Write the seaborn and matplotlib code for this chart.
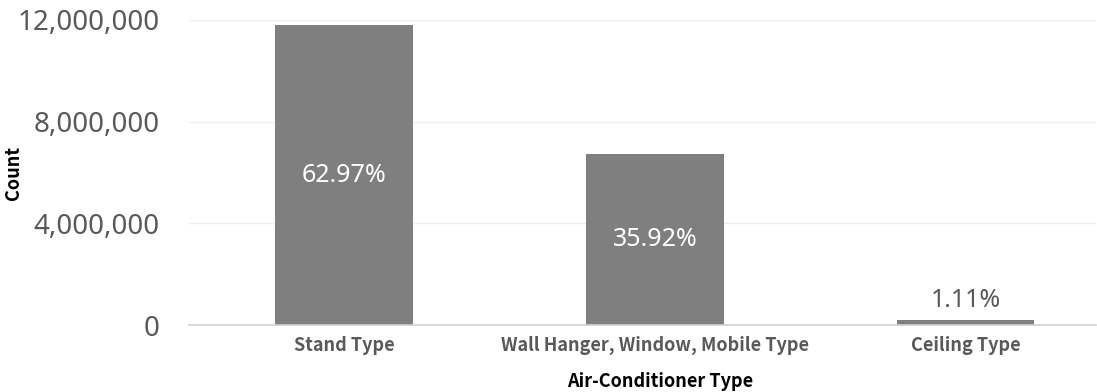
import matplotlib
matplotlib.use("Agg")
import matplotlib.pyplot as plt
import seaborn as sns
import pandas as pd

categories = ["Stand Type", "Wall Hanger, Window, Mobile Type", "Ceiling Type"]
counts = [11800000, 6731000, 208000]
pct_labels = ["62.97%", "35.92%", "1.11%"]
y_ticks = [0, 4000000, 8000000, 12000000]
y_tick_labels = ["0", "4,000,000", "8,000,000", "12,000,000"]

sns.set_theme(style="white")
plt.rcParams['font.family'] = ['Noto Sans', 'DejaVu Sans']

df = pd.DataFrame({"type": categories, "count": counts})

fig = plt.figure(figsize=(10.97, 3.92), dpi=100)
ax = fig.add_axes([189/1097, 1 - 325/392, (1096-189)/1097, (325-20)/392])

sns.barplot(data=df, x="type", y="count", color="#7f7f7f", width=0.444,
            saturation=1, ax=ax, edgecolor="none")

ax.set_xlim(-0.5, 2.42)
ax.set_ylim(0, 12000000)
ax.set_yticks(y_ticks)
ax.set_yticklabels(y_tick_labels, fontsize=20, color="#595959")
ax.tick_params(axis="y", length=0, pad=21)
ax.tick_params(axis="x", length=0, pad=8)
for lab in ax.get_xticklabels():
    lab.set_fontsize(13)
    lab.set_color("#595959")
    lab.set_fontweight("bold")
    lab.set_family(["Noto Sans CJK KR", "DejaVu Sans"])

ax.yaxis.grid(True, color="#ededed", linewidth=1)
ax.set_axisbelow(True)
for s in ["left", "right", "top"]:
    ax.spines[s].set_visible(False)
ax.spines["bottom"].set_color("#d0d0d0")
ax.spines["bottom"].set_linewidth(1.2)

ax.set_xlabel("Air-Conditioner Type", fontsize=13, color="black", fontweight="bold",
              family=["Noto Sans CJK KR", "DejaVu Sans"])
ax.xaxis.set_label_coords(0.52, -0.155)
ax.set_ylabel("Count", fontsize=13, color="black", fontweight="bold",
              family=["Noto Sans CJK KR", "DejaVu Sans"])
ax.yaxis.set_label_coords(-0.183, 0.5)

for i, (v, lbl) in enumerate(zip(counts, pct_labels)):
    if v > 1000000:
        ax.text(i, v / 2, lbl, ha="center", va="center", color="white", fontsize=18)
    else:
        ax.text(i, v + 250000, lbl, ha="center", va="bottom", color="#595959", fontsize=18)

fig.savefig("out.png", dpi=100)
